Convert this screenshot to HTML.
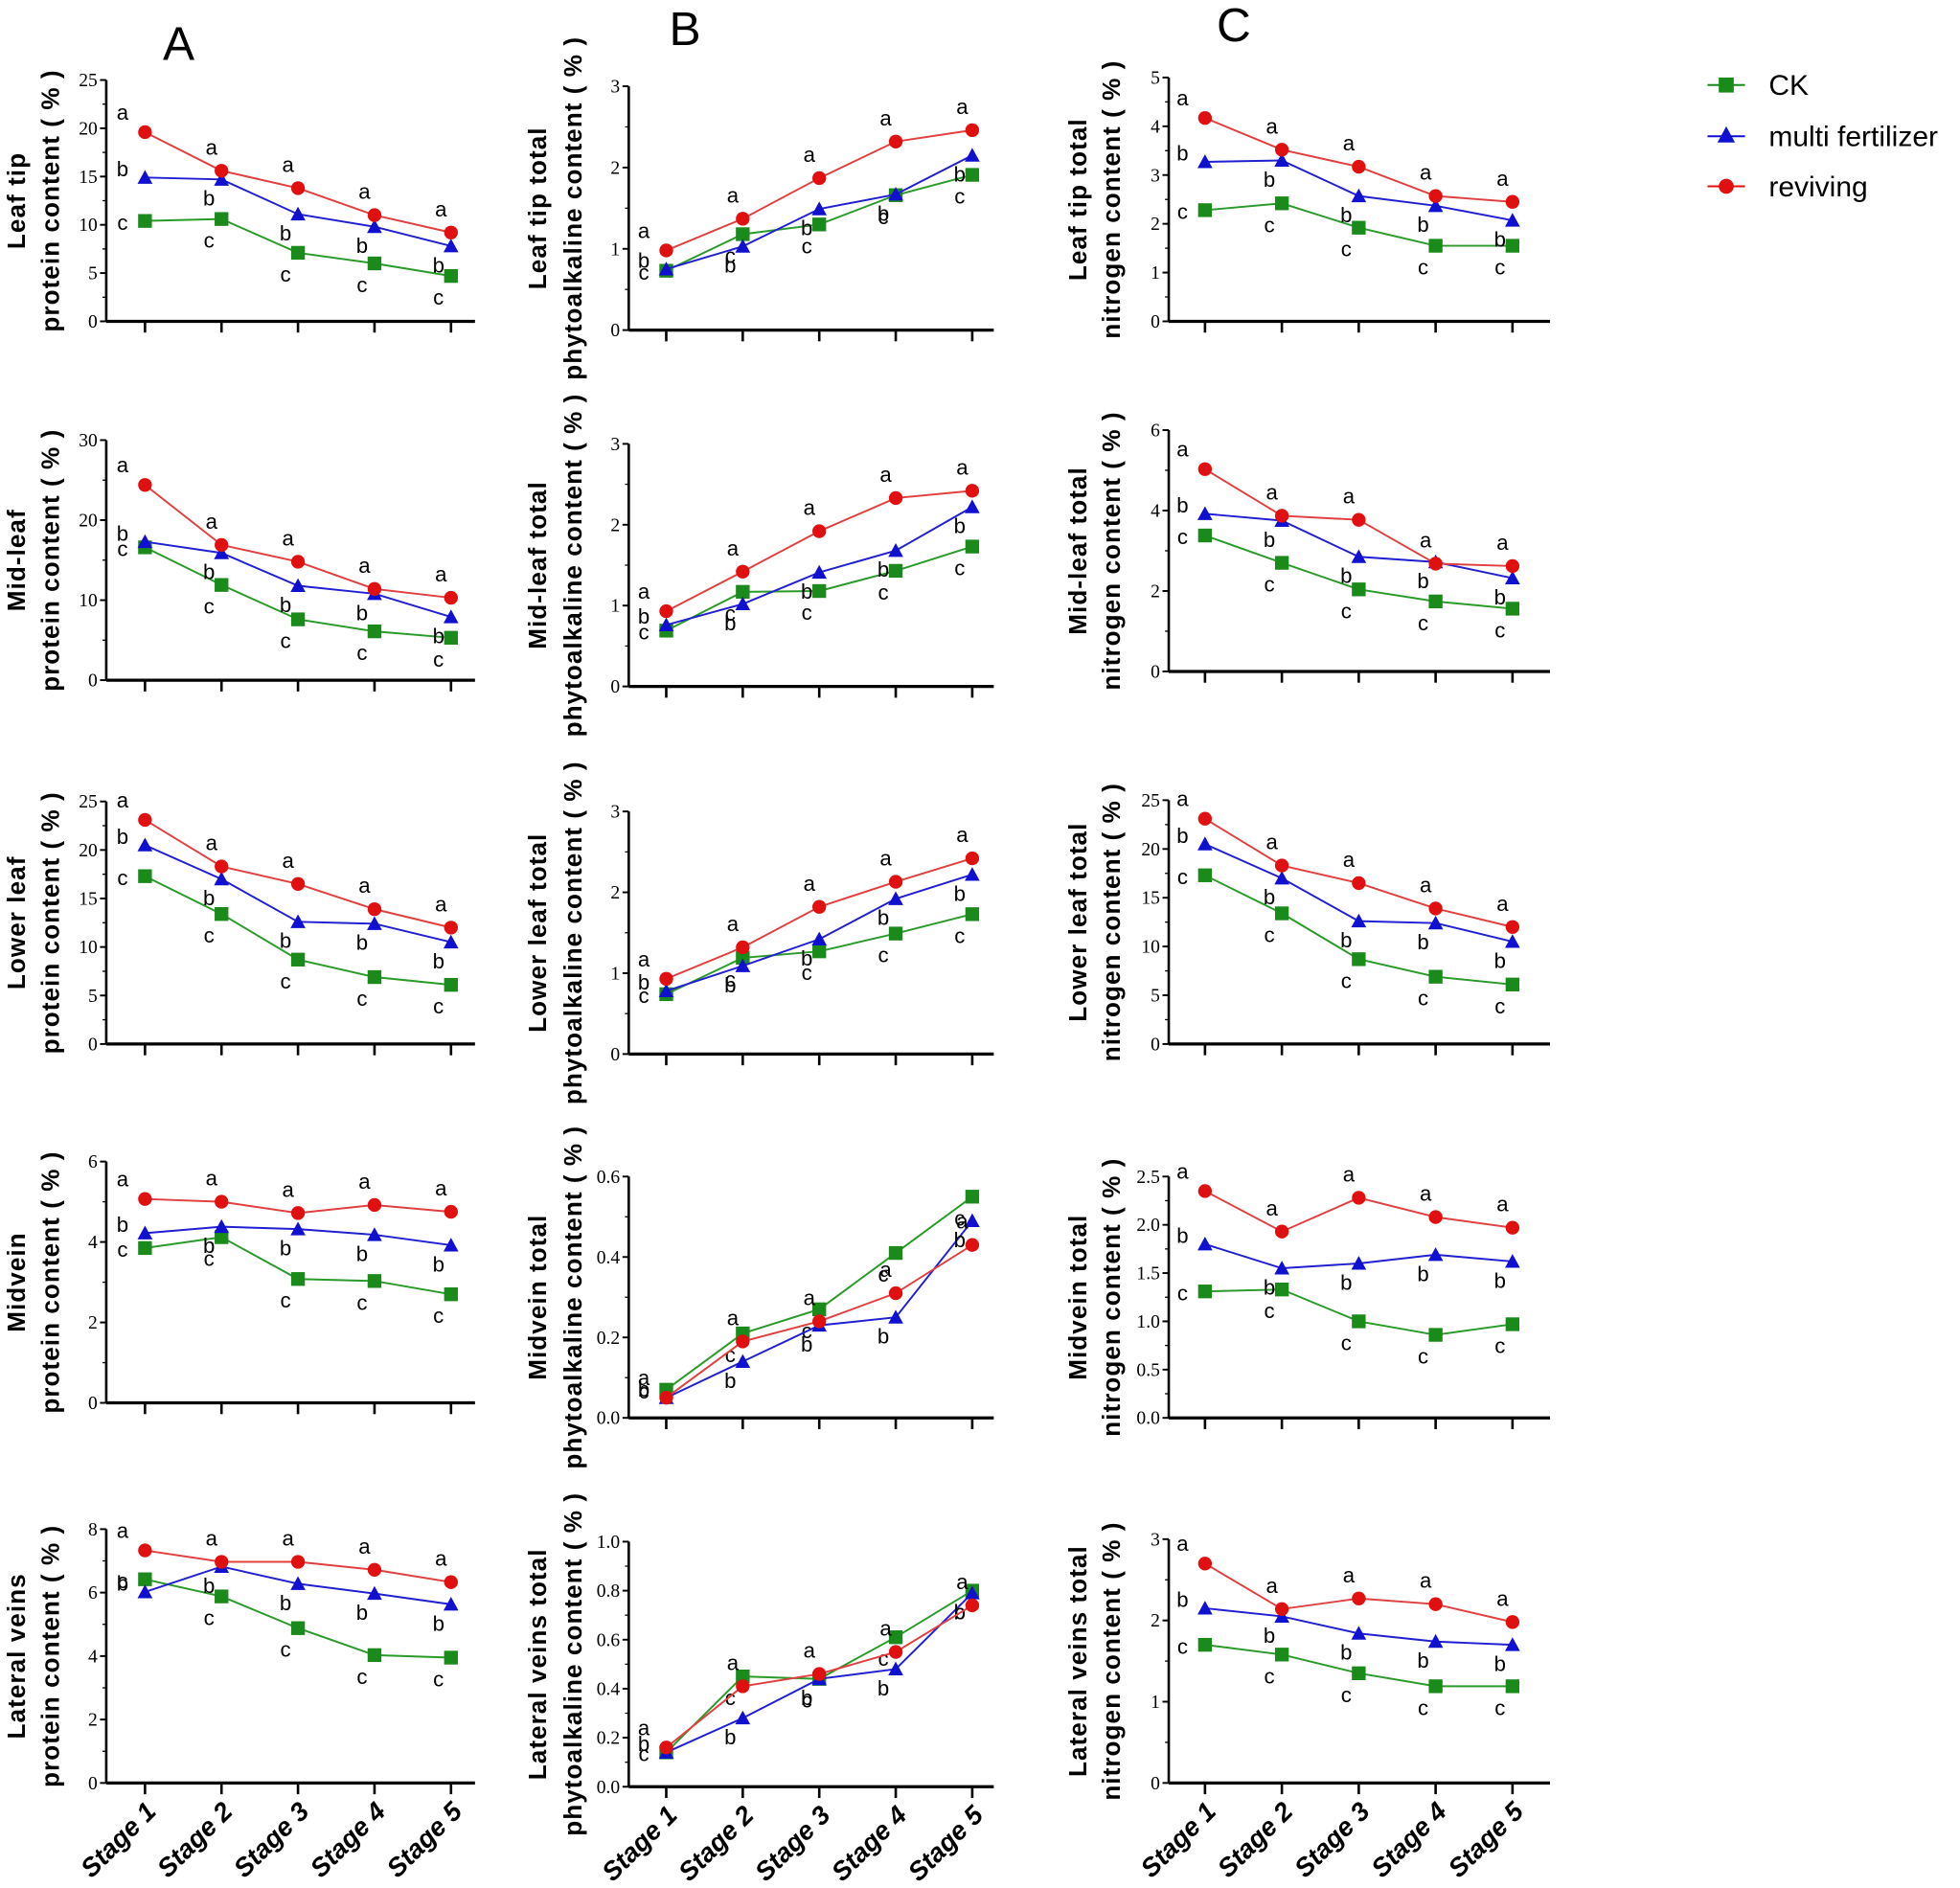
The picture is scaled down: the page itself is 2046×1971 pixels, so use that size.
<!DOCTYPE html>
<html><head><meta charset="utf-8">
<style>
html,body{margin:0;padding:0;background:#fff;}
svg{display:block;}
text{font-family:"Liberation Sans","DejaVu Sans",sans-serif;}
.tk{font-family:"Liberation Serif",serif;font-size:15px;}
.yt{font-weight:bold;font-size:20px;letter-spacing:0.8px;}
.lt{font-family:"Liberation Sans",sans-serif;font-size:17px;}
.xl{font-weight:bold;font-style:italic;font-size:21px;}
</style></head>
<body>
<svg id="fig" width="2046" height="1971" viewBox="0 0 1568 1510" preserveAspectRatio="none" xmlns="http://www.w3.org/2000/svg">
<text x="143" y="48" font-size="38" text-anchor="middle">A</text>
<text x="548" y="36" font-size="38" text-anchor="middle">B</text>
<text x="987" y="33" font-size="38" text-anchor="middle">C</text>
<g>
  <g><line x1="1366" y1="68" x2="1396" y2="68" stroke="#1a8a1a" stroke-width="1.5"/><rect x="1375" y="62" width="12" height="12" fill="#1a8a1a"/><text x="1415" y="76" font-size="23">CK</text></g>
  <g><line x1="1366" y1="109" x2="1396" y2="109" stroke="#1010d0" stroke-width="1.5"/><polygon points="1381,101 1388,114 1374,114" fill="#1010d0"/><text x="1415" y="117" font-size="23">multi fertilizer</text></g>
  <g><line x1="1366" y1="149" x2="1396" y2="149" stroke="#e01010" stroke-width="1.5"/><circle cx="1381" cy="149" r="6" fill="#e01010"/><text x="1415" y="157" font-size="23">reviving</text></g>
</g>
<g id="charts"></g>
</svg>
<script>
const stages = ["Stage 1","Stage 2","Stage 3","Stage 4","Stage 5"];
const r1a_rev=[19.6,15.6,13.8,11.0,9.2], r1a_mul=[14.9,14.7,11.1,9.8,7.8], r1a_ck=[10.4,10.6,7.1,6.0,4.7];
const r1b_rev=[0.98,1.37,1.87,2.32,2.46], r1b_mul=[0.75,1.03,1.49,1.67,2.15], r1b_ck=[0.73,1.18,1.30,1.66,1.91];
const r1c_rev=[4.17,3.52,3.17,2.57,2.45], r1c_mul=[3.27,3.30,2.57,2.37,2.07], r1c_ck=[2.28,2.42,1.92,1.55,1.55];
const r2a_rev=[24.4,16.9,14.8,11.4,10.3], r2a_mul=[17.3,15.9,11.8,10.8,7.9], r2a_ck=[16.6,11.9,7.6,6.1,5.3];
const r2b_rev=[0.93,1.42,1.92,2.33,2.42], r2b_mul=[0.76,1.02,1.41,1.68,2.22], r2b_ck=[0.69,1.17,1.18,1.43,1.73];
const r2c_rev=[5.03,3.87,3.77,2.68,2.62], r2c_mul=[3.92,3.75,2.85,2.72,2.32], r2c_ck=[3.38,2.70,2.04,1.74,1.56];
const r3a_rev=[23.1,18.3,16.5,13.9,12.0], r3a_mul=[20.5,17.0,12.6,12.4,10.5], r3a_ck=[17.3,13.4,8.7,6.9,6.1];
const r3b_rev=[0.93,1.32,1.82,2.13,2.42], r3b_mul=[0.78,1.09,1.42,1.92,2.22], r3b_ck=[0.74,1.19,1.27,1.49,1.73];
const r3c_rev=[23.1,18.3,16.5,13.9,12.0], r3c_mul=[20.5,17.0,12.6,12.4,10.5], r3c_ck=[17.3,13.4,8.7,6.9,6.1];
const r4a_rev=[5.07,5.0,4.72,4.92,4.75], r4a_mul=[4.22,4.38,4.32,4.18,3.92], r4a_ck=[3.85,4.12,3.08,3.03,2.70];
const r4b_rev=[0.05,0.19,0.24,0.31,0.43], r4b_mul=[0.05,0.14,0.23,0.25,0.49], r4b_ck=[0.07,0.21,0.27,0.41,0.55];
const r4c_rev=[2.35,1.93,2.28,2.08,1.97], r4c_mul=[1.80,1.55,1.60,1.69,1.62], r4c_ck=[1.31,1.33,1.00,0.86,0.97];
const r5a_rev=[7.33,6.97,6.97,6.72,6.33], r5a_mul=[6.02,6.82,6.28,5.97,5.63], r5a_ck=[6.42,5.88,4.88,4.03,3.95];
const r5b_rev=[0.16,0.41,0.46,0.55,0.74], r5b_mul=[0.14,0.28,0.44,0.48,0.79], r5b_ck=[0.14,0.45,0.44,0.61,0.80];
const r5c_rev=[2.70,2.14,2.27,2.20,1.98], r5c_mul=[2.15,2.05,1.84,1.74,1.70], r5c_ck=[1.70,1.58,1.35,1.19,1.19];
const letters_rev=["a","a","a","a","a"], letters_mul=["b","b","b","b","b"], letters_ck=["c","c","c","c","c"];
const ticks_protein25=["0","5","10","15","20","25"], ticks_protein30=["0","10","20","30"];
const ticks_alk3=["0","1","2","3"], ticks_n5=["0","1","2","3","4","5"], ticks_n6=["0","2","4","6"];
const ticks_6=["0","2","4","6"], ticks_06=["0.0","0.2","0.4","0.6"], ticks_25=["0.0","0.5","1.0","1.5","2.0","2.5"];
const ticks_8=["0","2","4","6","8"], ticks_1=["0.0","0.2","0.4","0.6","0.8","1.0"], ticks_3=["0","1","2","3"];

const cols={a:{ax:85,end:380,x0:116,dx:61.2,t1x:20,t2x:47},
            b:{ax:503,end:795,x0:533,dx:61.2,t1x:437,t2x:465},
            c:{ax:935,end:1240,x0:964,dx:61.5,t1x:869,t2x:896}};
const panels=[
 {c:"a",top:64,bot:257,max:25,ticks:ticks_protein25,d:[r1a_rev,r1a_mul,r1a_ck],t:["Leaf tip","protein content ( % )"]},
 {c:"b",top:69,bot:264,max:3,ticks:ticks_alk3,d:[r1b_rev,r1b_mul,r1b_ck],t:["Leaf tip total","phytoalkaline content ( % )"]},
 {c:"c",top:62,bot:257,max:5,ticks:ticks_n5,d:[r1c_rev,r1c_mul,r1c_ck],t:["Leaf tip total","nitrogen content ( % )"]},
 {c:"a",top:352,bot:544,max:30,ticks:ticks_protein30,d:[r2a_rev,r2a_mul,r2a_ck],t:["Mid-leaf","protein content ( % )"]},
 {c:"b",top:355,bot:549,max:3,ticks:ticks_alk3,d:[r2b_rev,r2b_mul,r2b_ck],t:["Mid-leaf total","phytoalkaline content ( % )"]},
 {c:"c",top:344,bot:537,max:6,ticks:ticks_n6,d:[r2c_rev,r2c_mul,r2c_ck],t:["Mid-leaf total","nitrogen content ( % )"]},
 {c:"a",top:641,bot:835,max:25,ticks:ticks_protein25,d:[r3a_rev,r3a_mul,r3a_ck],t:["Lower leaf","protein content ( % )"]},
 {c:"b",top:649,bot:843,max:3,ticks:ticks_alk3,d:[r3b_rev,r3b_mul,r3b_ck],t:["Lower leaf  total","phytoalkaline content ( % )"]},
 {c:"c",top:640,bot:835,max:25,ticks:ticks_protein25,d:[r3c_rev,r3c_mul,r3c_ck],t:["Lower leaf total","nitrogen content ( % )"]},
 {c:"a",top:929,bot:1122,max:6,ticks:ticks_6,d:[r4a_rev,r4a_mul,r4a_ck],t:["Midvein","protein content ( % )"]},
 {c:"b",top:941,bot:1134,max:0.6,ticks:ticks_06,d:[r4b_rev,r4b_mul,r4b_ck],t:["Midvein total","phytoalkaline content ( % )"]},
 {c:"c",top:941,bot:1134,max:2.5,ticks:ticks_25,d:[r4c_rev,r4c_mul,r4c_ck],t:["Midvein total","nitrogen content ( % )"]},
 {c:"a",top:1223,bot:1426,max:8,ticks:ticks_8,d:[r5a_rev,r5a_mul,r5a_ck],t:["Lateral veins","protein content ( % )"],x:true},
 {c:"b",top:1233,bot:1429,max:1,ticks:ticks_1,d:[r5b_rev,r5b_mul,r5b_ck],t:["Lateral veins total","phytoalkaline content ( % )"],x:true},
 {c:"c",top:1231,bot:1426,max:3,ticks:ticks_3,d:[r5c_rev,r5c_mul,r5c_ck],t:["Lateral veins total","nitrogen content ( % )"],x:true}
];
const NS="http://www.w3.org/2000/svg";
const root=document.getElementById("charts");
function mk(tag,attrs,parent,txt){const e=document.createElementNS(NS,tag);for(const k in attrs)e.setAttribute(k,attrs[k]);if(txt!==undefined)e.textContent=txt;parent.appendChild(e);return e;}
const colors=["#e01010","#1010d0","#1a8a1a"];
const lineCol=["#e04040","#2020d0","#2a9a2a"];
const names=["reviving","multi-fertilizer","ck"];
const letterSets=[letters_rev,letters_mul,letters_ck];
panels.forEach((p,pi)=>{
  const C=cols[p.c];
  const g=mk("g",{},root);
  
  
  const xs=i=>C.x0+i*C.dx;
  const ys=v=>p.bot-(v/p.max)*(p.bot-p.top);
  const ax=mk("g",{},g);
  
  
  mk("line",{x1:C.ax,y1:p.top,x2:C.ax,y2:p.bot,stroke:"#000","stroke-width":2},ax);
  mk("line",{x1:C.ax,y1:p.bot,x2:C.end,y2:p.bot,stroke:"#000","stroke-width":2.5},ax);
  const n=p.ticks.length-1;
  for(let k=0;k<=n;k++){
    const v=parseFloat(p.ticks[k]);const y=ys(v);
    mk("line",{x1:C.ax-5,y1:y,x2:C.ax,y2:y,stroke:"#000","stroke-width":1.5},ax);
    const tl=mk("text",{x:C.ax-7,y:y+5,"text-anchor":"end",class:"tk"},ax,p.ticks[k]);
    
    
    if(k<n){const ym=ys(v+(parseFloat(p.ticks[k+1])-v)/2);mk("line",{x1:C.ax-3,y1:ym,x2:C.ax,y2:ym,stroke:"#000","stroke-width":1},ax);}
  }
  stages.forEach((s,i)=>{
    mk("line",{x1:xs(i),y1:p.bot,x2:xs(i),y2:p.bot+9,stroke:"#000","stroke-width":2},ax);
    if(p.x){
      const t=mk("text",{x:0,y:0,"text-anchor":"end",class:"xl",transform:`translate(${xs(i)+10},${p.bot+24}) rotate(-45)`},ax,s);
      
      
    }
  });
  const cy=(p.top+p.bot)/2;
  const t1=mk("text",{x:0,y:0,"text-anchor":"middle",class:"yt",transform:`translate(${C.t1x},${cy}) rotate(-90)`},g,p.t[0]);
  
  
  const t2=mk("text",{x:0,y:0,"text-anchor":"middle",class:"yt",transform:`translate(${C.t2x},${cy}) rotate(-90)`},g,p.t[1]);
  
  
  [2,1,0].forEach(si=>{
    const vals=p.d[si];
    const sg=mk("g",{},g);
    
    
    mk("polyline",{points:vals.map((v,i)=>xs(i)+","+ys(v)).join(" "),fill:"none",stroke:lineCol[si],"stroke-width":1.5},sg);
    vals.forEach((v,i)=>{
      const x=xs(i),y=ys(v);let m;
      if(si===0)m=mk("circle",{cx:x,cy:y,r:5.5,fill:colors[0]},sg);
      else if(si===1)m=mk("polygon",{points:`${x},${y-6} ${x+6},${y+5} ${x-6},${y+5}`,fill:colors[1]},sg);
      else m=mk("rect",{x:x-5.5,y:y-5.5,width:11,height:11,fill:colors[2]},sg);
      
      
      let lx,ly;
      if(i===0){lx=x-18;ly=y+(si===0?-10:si===1?-1:7);}
      else if(si===0){lx=x-8;ly=y-13;}
      else if(si===1){lx=x-10;ly=y+21;}
      else {lx=x-10;ly=y+23;}
      const lt=mk("text",{x:lx,y:ly,"text-anchor":"middle",class:"lt"},sg,letterSets[si][i]);
      
      
    });
  });
});
</script>
</body></html>
